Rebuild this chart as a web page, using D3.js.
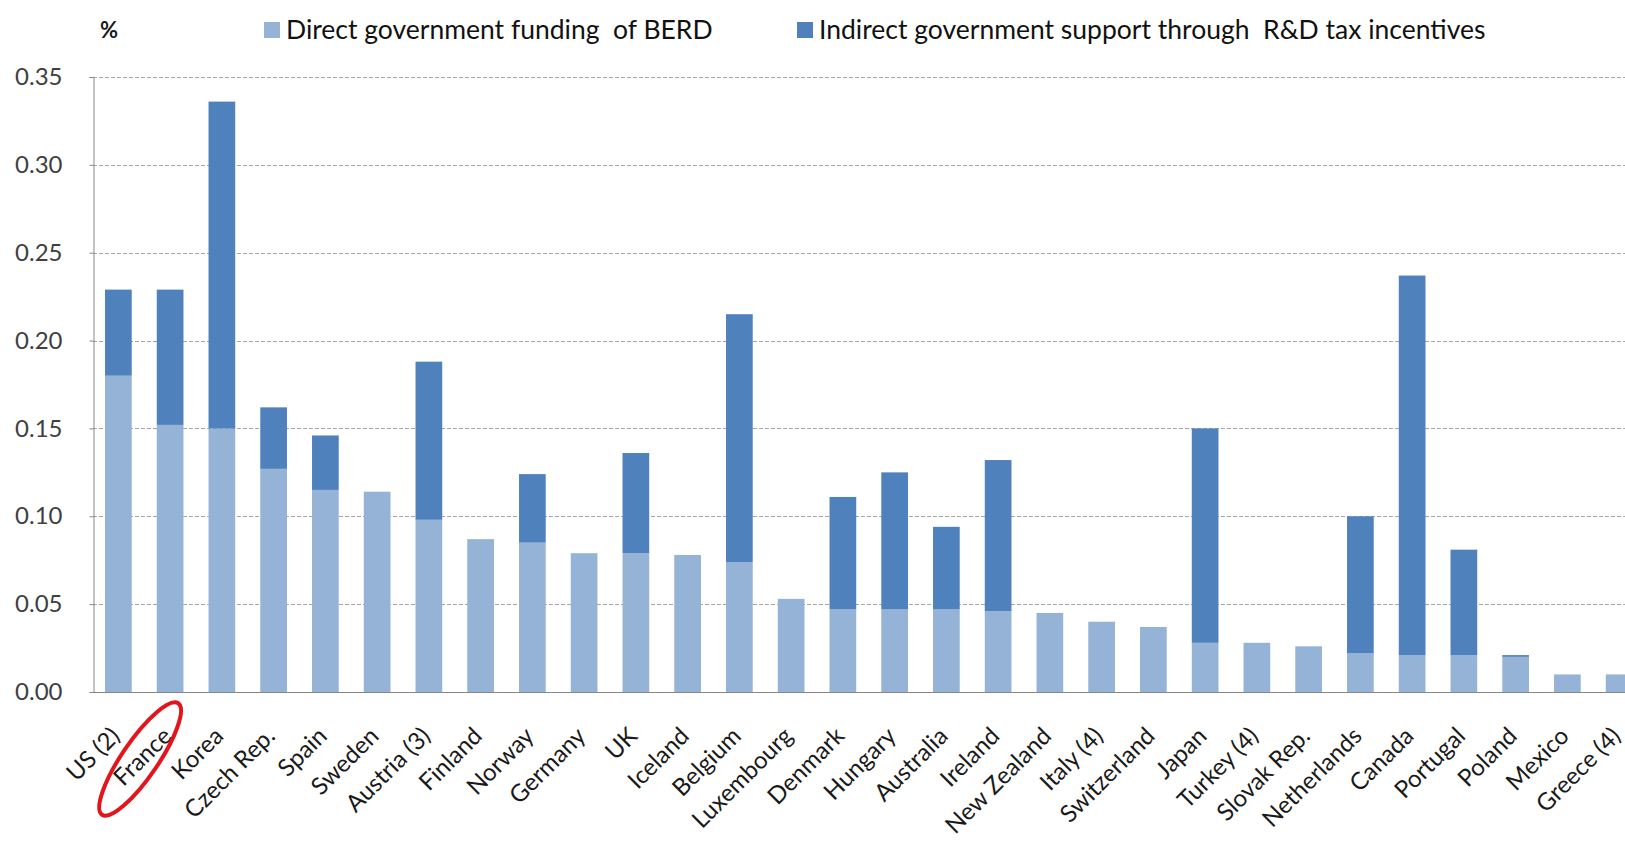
<!DOCTYPE html>
<html>
<head>
<meta charset="utf-8">
<script src="https://cdn.jsdelivr.net/npm/d3@7"></script>
<style>
  html, body { margin: 0; padding: 0; background: #fff; overflow: hidden; }
  svg { display: block; font-family: Lato, "Open Sans", sans-serif; }
</style>
</head>
<body>
<svg id="chart" width="1625" height="841"></svg>
<script>
const categories = ["US (2)","France","Korea","Czech Rep.","Spain","Sweden","Austria (3)","Finland","Norway","Germany","UK","Iceland","Belgium","Luxembourg","Denmark","Hungary","Australia","Ireland","New Zealand","Italy (4)","Switzerland","Japan","Turkey (4)","Slovak Rep.","Netherlands","Canada","Portugal","Poland","Mexico","Greece (4)"];
const directFunding = [0.180,0.152,0.150,0.127,0.115,0.114,0.098,0.087,0.085,0.079,0.079,0.078,0.074,0.053,0.047,0.047,0.047,0.046,0.045,0.040,0.037,0.028,0.028,0.026,0.022,0.021,0.021,0.020,0.010,0.010];
const indirectSupport = [0.049,0.077,0.186,0.035,0.031,0.000,0.090,0.000,0.039,0.000,0.057,0.000,0.141,0.000,0.064,0.078,0.047,0.086,0.000,0.000,0.000,0.122,0.000,0.000,0.078,0.216,0.060,0.001,0.000,0.000];
const seriesNames = ["Direct government funding  of BERD", "Indirect government support through  R&D tax incentives"];
const yTicks = [0.00,0.05,0.10,0.15,0.20,0.25,0.30,0.35];
const highlighted = "France";

const colors = ["#95B3D7", "#4F81BD"];
const svg = d3.select("#chart");

const rows = categories.map((c, i) => ({cat: c, direct: directFunding[i], indirect: indirectSupport[i]}));
const stack = d3.stack().keys(["direct", "indirect"]);
const layers = stack(rows);

const x = d3.scaleBand().domain(categories).range([92.5, 1645]).paddingInner(0.484).paddingOuter(0.242);
const y = d3.scaleLinear().domain([0, 0.35]).range([692, 77]);

// gridlines
svg.append("g").selectAll("line").data(yTicks.filter(t => t > 0)).join("line")
  .attr("x1", 93).attr("x2", 1625)
  .attr("y1", d => Math.round(y(d)) + 0.5).attr("y2", d => Math.round(y(d)) + 0.5)
  .attr("stroke", "#a6a6a6").attr("stroke-width", 1).attr("stroke-dasharray", "4,2");

// bars
svg.append("g").selectAll("g").data(layers).join("g")
  .attr("fill", (d, i) => colors[i])
  .selectAll("rect").data(d => d).join("rect")
  .attr("x", d => x(d.data.cat))
  .attr("width", x.bandwidth())
  .attr("y", d => y(d[1]))
  .attr("height", d => y(d[0]) - y(d[1]));

// y axis
const yAxis = d3.axisLeft(y).tickValues(yTicks).tickFormat(d3.format(".2f")).tickSize(4).tickPadding(27);
const gy = svg.append("g").attr("transform", "translate(93.5,0)").call(yAxis);
gy.select(".domain").attr("stroke", "#868686");
gy.selectAll(".tick line").attr("stroke", "#868686");
gy.selectAll(".tick text").attr("font-size", 24).attr("fill", "#404040").attr("font-family", "Lato, sans-serif");

// x axis
const xAxis = d3.axisBottom(x).tickSize(0).tickPadding(0);
const gx = svg.append("g").attr("transform", "translate(0,692.5)").call(xAxis);
gx.select(".domain").attr("stroke", "#868686").attr("d", "M93,0H1625");
gx.selectAll(".tick text")
  .attr("font-size", 24).attr("fill", "#1a1a1a").attr("font-family", "Lato, sans-serif")
  .attr("text-anchor", "end").attr("dy", 0).attr("y", 0)
  .attr("transform", "translate(3,45) rotate(-45)");

// highlight ellipse around France
const fx = x(highlighted) + x.bandwidth() / 2;
svg.append("ellipse")
  .attr("cx", fx - 30).attr("cy", 759)
  .attr("rx", 67.5).attr("ry", 18)
  .attr("transform", `rotate(-55.7, ${fx - 30}, 759)`)
  .attr("fill", "none").attr("stroke", "#e3141b").attr("stroke-width", 4);

// legend
svg.append("text").attr("x", 100).attr("y", 38).attr("font-size", 22).attr("font-weight", "bold").attr("fill", "#1a1a1a").text("%");
const legendX = [264, 797];
const lg = svg.append("g").selectAll("g").data(seriesNames).join("g")
  .attr("transform", (d, i) => `translate(${legendX[i]},22)`);
lg.append("rect").attr("width", 16).attr("height", 16).attr("fill", (d, i) => colors[i]);
lg.append("text").attr("x", 22).attr("y", 16.5).attr("font-size", 26.5).attr("fill", "#111")
  .style("white-space", "pre").text(d => d);
</script>
</body>
</html>
